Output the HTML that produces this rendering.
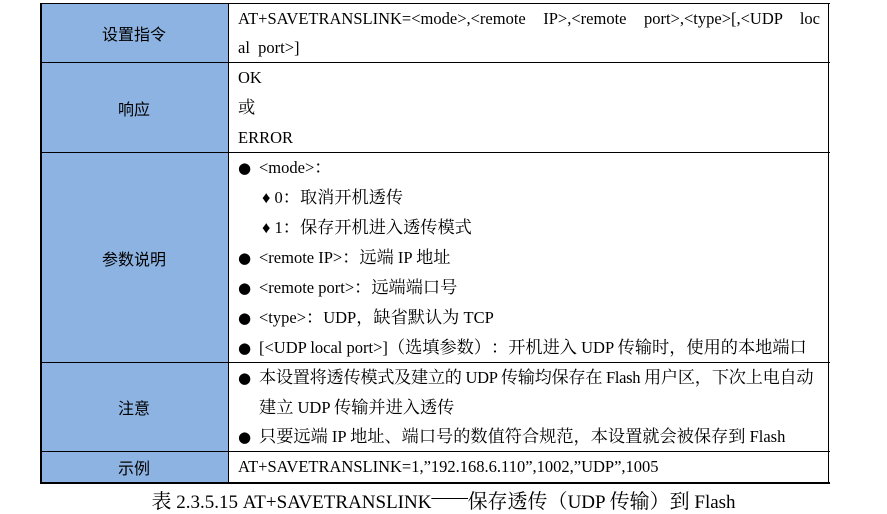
<!DOCTYPE html>
<html><head><meta charset="utf-8"><style>
body{margin:0;width:887px;height:514px;background:#fff;position:relative;overflow:hidden;font-family:"Liberation Serif","Noto Serif CJK SC",serif;font-size:16.5px;color:#000}
.lab{position:absolute;left:40px;width:188px;background:#8db3e2;display:flex;align-items:center;justify-content:center;font-family:"Liberation Sans","Noto Sans CJK SC",sans-serif;font-size:16px}
.hl{position:absolute;left:40px;width:790px;height:1px;background:#000}
.vl{position:absolute;top:3px;height:481px;width:1px;background:#000}
.t{position:absolute;white-space:nowrap;line-height:20px}
.b{position:absolute;left:238px;font-size:15px;line-height:20px;font-family:"DejaVu Sans",sans-serif}
i{font-style:normal;font-size:17.2px}
.p{display:inline-block;width:1em;text-align:center}
.pl{display:inline-block;width:1em;text-align:right}
.pr{display:inline-block;width:1em;text-align:left}
.cap i{font-size:20px}
</style></head><body>
<div class="lab" style="top:4px;height:58px">设置指令</div>
<div class="lab" style="top:63px;height:89px">响应</div>
<div class="lab" style="top:153px;height:209px">参数说明</div>
<div class="lab" style="top:363px;height:88px">注意</div>
<div class="lab" style="top:452px;height:30px">示例</div>
<div class="hl" style="top:3px"></div>
<div class="hl" style="top:62px"></div>
<div class="hl" style="top:152px"></div>
<div class="hl" style="top:362px"></div>
<div class="hl" style="top:451px"></div>
<div class="hl" style="top:482px;height:2px"></div>
<div class="vl" style="left:40px;width:2px"></div>
<div class="vl" style="left:228px"></div>
<div class="vl" style="left:828px"></div>

<div class="t" style="left:238px;top:9px;width:582px;text-align:justify;text-align-last:justify;white-space:normal;height:20px;overflow:hidden">AT+SAVETRANSLINK=&lt;mode&gt;,&lt;remote IP&gt;,&lt;remote port&gt;,&lt;type&gt;[,&lt;UDP loc</div>
<div class="t" style="left:238px;top:38px">al&nbsp; port&gt;]</div>
<div class="t" style="left:238px;top:68px">OK</div>
<div class="t" style="left:238px;top:98px"><i>或</i></div>
<div class="t" style="left:238px;top:128px">ERROR</div>

<div class="b" style="top:158px">●</div><div class="t" style="left:259px;top:158px">&lt;mode&gt;<i class="pr">：</i></div>
<div class="t" style="left:262px;top:188px">♦ 0<i class="pr">：</i><i>取消开机透传</i></div>
<div class="t" style="left:262px;top:218px">♦ 1<i class="pr">：</i><i>保存开机进入透传模式</i></div>
<div class="b" style="top:248px">●</div><div class="t" style="left:259px;top:248px">&lt;remote IP&gt;<i class="pr">：</i><i>远端</i> IP <i>地址</i></div>
<div class="b" style="top:278px">●</div><div class="t" style="left:259px;top:278px">&lt;remote port&gt;<i class="pr">：</i><i>远端端口号</i></div>
<div class="b" style="top:308px">●</div><div class="t" style="left:259px;top:308px">&lt;type&gt;<i class="pr">：</i>UDP<i class="pr">，</i><i>缺省默认为</i> TCP</div>
<div class="b" style="top:338px">●</div><div class="t" style="left:259px;top:338px">[&lt;UDP local port&gt;]<i class="pl">（</i><i>选填参数</i><i class="pr">）</i><i class="p">：</i><i>开机进入</i> UDP <i>传输时</i><i class="pr">，</i><i>使用的本地端口</i></div>

<div class="b" style="top:368px">●</div><div class="t" style="left:259px;top:368px;letter-spacing:-0.3px"><i>本设置将透传模式及建立的</i> UDP <i>传输均保存在</i> Flash <i>用户区</i><i class="pr">，</i><i>下次上电自动</i></div>
<div class="t" style="left:259px;top:398px"><i>建立</i> UDP <i>传输并进入透传</i></div>
<div class="b" style="top:427px">●</div><div class="t" style="left:259px;top:427px"><i>只要远端</i> IP <i>地址</i><i class="pr">、</i><i>端口号的数值符合规范</i><i class="pr">，</i><i>本设置就会被保存到</i> Flash</div>

<div class="t" style="left:238px;top:457px">AT+SAVETRANSLINK=1,”192.168.6.110”,1002,”UDP”,1005</div>

<div class="t cap" style="left:0;width:887px;text-align:center;top:488px;font-size:19px"><i>表</i> 2.3.5.15 AT+SAVETRANSLINK<span style="display:inline-block;width:1.9em;overflow:hidden">——</span><i>保存透传</i><i class="pl">（</i>UDP <i>传输</i><i class="pr">）</i><i>到</i> Flash</div>
</body></html>
